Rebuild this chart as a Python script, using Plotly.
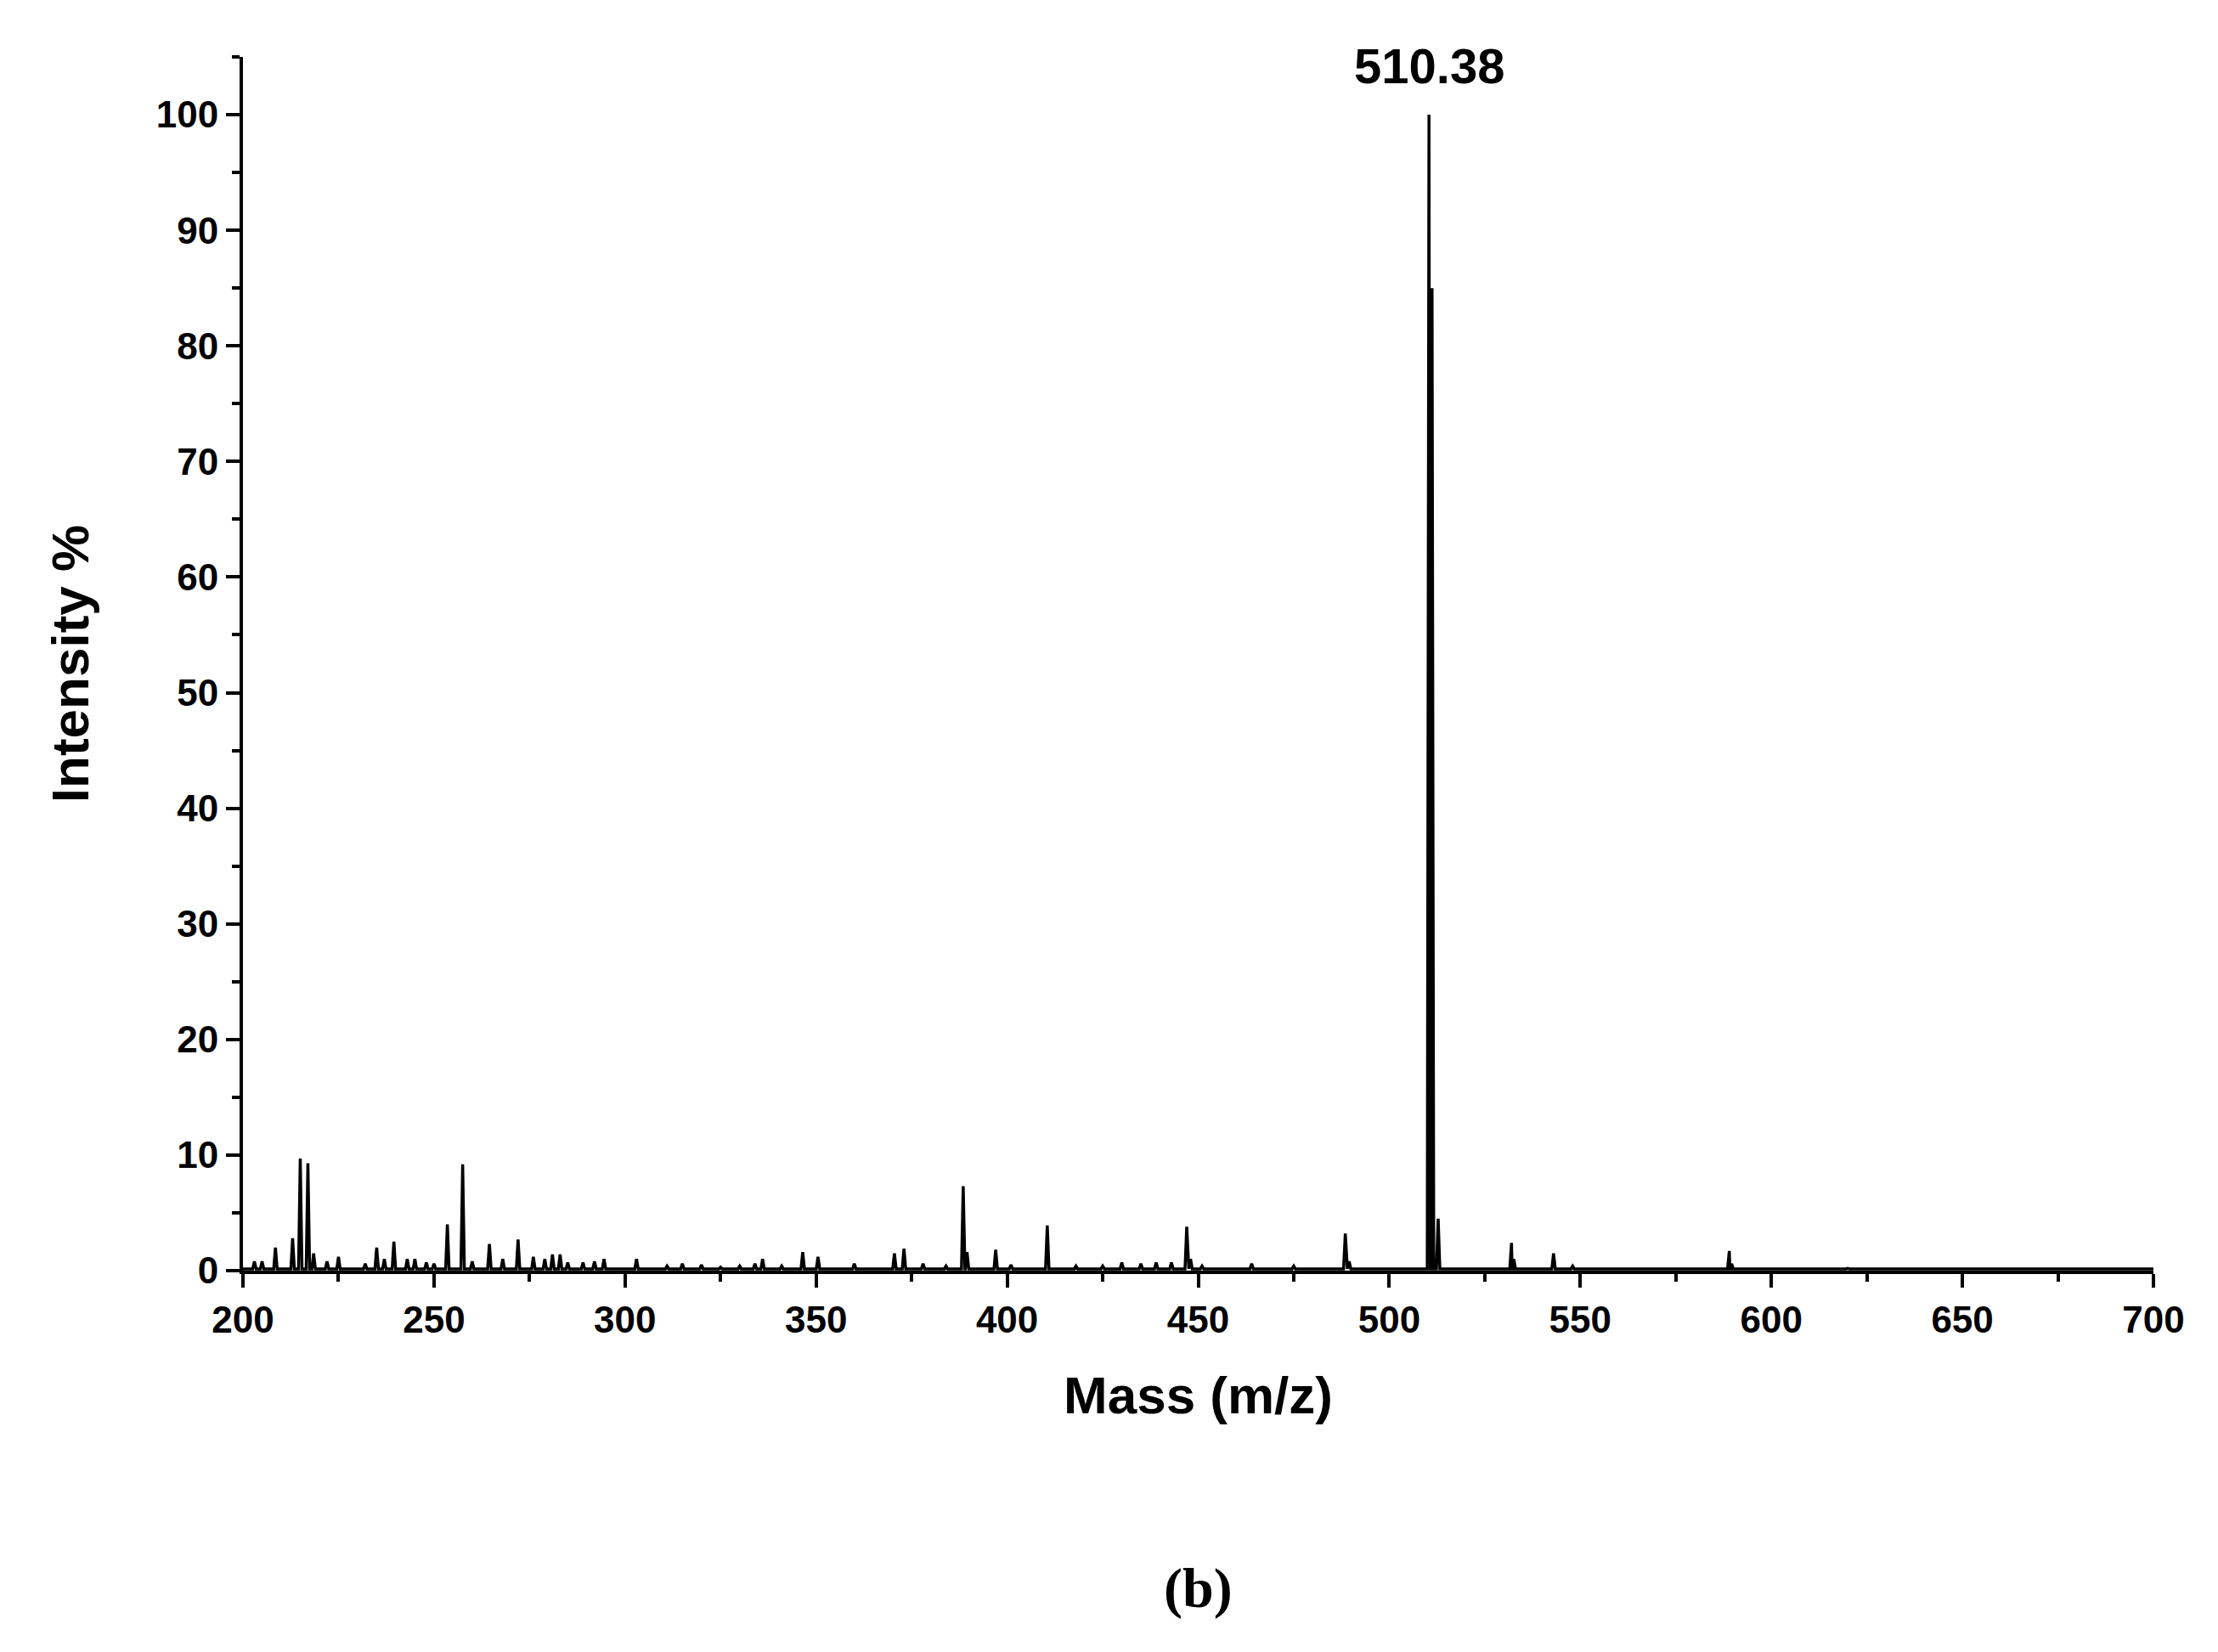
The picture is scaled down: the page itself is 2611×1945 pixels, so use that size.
import plotly.graph_objects as go

peak_mz = [203, 205, 208.5, 213, 215, 217, 218.5, 222, 225, 232, 235, 237, 239.5, 243, 245, 248, 250,
           253.5, 257.5, 260, 264.5, 268, 272, 276, 279, 281, 283, 285, 289, 292, 294.5, 303, 311, 315,
           320, 325, 330, 334, 336, 341, 346.5, 350.5, 360, 370.5, 373, 378, 384, 388.5, 389.5, 397, 401,
           410.5, 418, 425, 430, 435, 439, 443, 447, 448, 451, 464, 475, 488.5, 489.5,
           510.4, 511.2, 511.6, 512.8, 532, 532.6, 543, 548, 589, 589.6, 620, 680]
peak_int = [0.8, 0.8, 2.0, 2.8, 9.7, 9.3, 1.5, 0.8, 1.2, 0.6, 2.0, 1.0, 2.5, 1.0, 1.0, 0.7, 0.6,
            4.0, 9.2, 0.8, 2.3, 1.0, 2.7, 1.2, 1.0, 1.4, 1.4, 0.7, 0.7, 0.8, 1.0, 1.0, 0.4, 0.6,
            0.5, 0.3, 0.4, 0.6, 1.0, 0.4, 1.6, 1.2, 0.6, 1.5, 1.9, 0.6, 0.4, 7.3, 1.6, 1.8, 0.5,
            3.9, 0.4, 0.4, 0.7, 0.6, 0.7, 0.7, 3.8, 1.0, 0.4, 0.6, 0.4, 3.2, 0.8,
            100, 85, 25, 4.5, 2.4, 1.0, 1.5, 0.4, 1.7, 0.6, 0.2, 0.2]
baseline = 0.15

pts = [(200, baseline), (700, baseline)]
for m, h in zip(peak_mz, peak_int):
    pts += [(m - 0.45, baseline), (m, h), (m + 0.45, baseline)]
pts.sort()
xs = [p[0] for p in pts]
ys = [p[1] for p in pts]

fig = go.Figure(go.Scatter(x=xs, y=ys, mode="lines", line=dict(color="black", width=3.5),
                           showlegend=False))

font = "Liberation Sans, Arial, sans-serif"
axis_common = dict(showline=True, linecolor="black", linewidth=4, ticks="outside", ticklen=16,
                   tickwidth=4, tickcolor="black", showgrid=False, zeroline=False,
                   tickfont=dict(family=font, size=44, color="black", weight="bold"),
                   minor=dict(ticks="outside", ticklen=9, tickwidth=4, tickcolor="black"))
T, B = 59, 457
fig.update_layout(
    width=2611, height=1945, plot_bgcolor="white", paper_bgcolor="white",
    margin=dict(l=278, r=84, t=T, b=B),
    xaxis=dict(range=[200, 700], dtick=50, minor_dtick=25,
               title=dict(text="Mass (m/z)", font=dict(family=font, size=62, color="black", weight="bold"), standoff=45),
               **axis_common),
    yaxis=dict(range=[0, 105], dtick=10, minor_dtick=5,
               title=dict(text="Intensity %", font=dict(family=font, size=62, color="black", weight="bold"), standoff=60),
               **axis_common),
    annotations=[
        dict(x=510.38, y=100, xref="x", yref="y", text="510.38", showarrow=False, yshift=58,
             font=dict(family=font, size=58, color="black", weight="bold")),
        dict(x=0.5, y=-(1862 - (1945 - B)) / (1945 - B - T), xref="paper", yref="paper", text="(b)",
             showarrow=False, yanchor="middle",
             font=dict(family="Liberation Serif, Times New Roman, serif", size=66, color="black", weight="bold")),
    ],
)
fig.write_html("out.html")
